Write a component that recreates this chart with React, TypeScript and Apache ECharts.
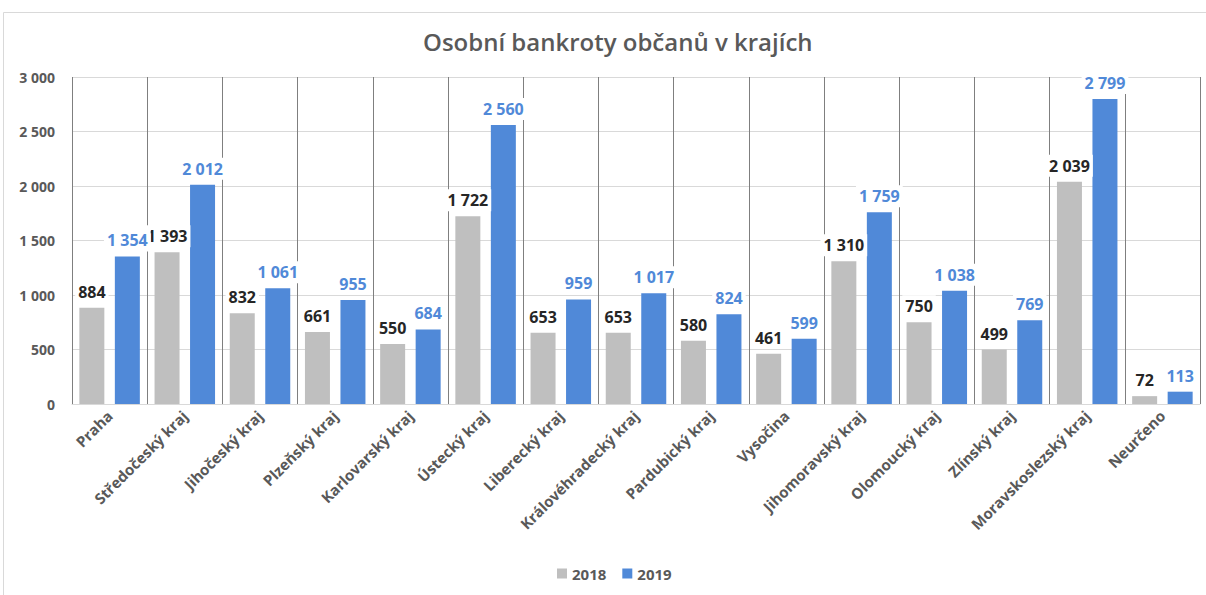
import React, { useEffect, useRef } from "react";
import * as echarts from "echarts";

const categories = [
  "Praha",
  "Středočeský kraj",
  "Jihočeský kraj",
  "Plzeňský kraj",
  "Karlovarský kraj",
  "Ústecký kraj",
  "Liberecký kraj",
  "Královéhradecký kraj",
  "Pardubický kraj",
  "Vysočina",
  "Jihomoravský kraj",
  "Olomoucký kraj",
  "Zlínský kraj",
  "Moravskoslezský kraj",
  "Neurčeno",
];
const values2018 = [884, 1393, 832, 661, 550, 1722, 653, 653, 580, 461, 1310, 750, 499, 2039, 72];
const values2019 = [1354, 2012, 1061, 955, 684, 2560, 959, 1017, 824, 599, 1759, 1038, 769, 2799, 113];
const yTicks = [0, 500, 1000, 1500, 2000, 2500, 3000];

const fmt = (v: number) => String(v).replace(/\B(?=(\d{3})+(?!\d))/g, " ");

const FONT = "'Open Sans', 'Noto Sans', sans-serif";
const GRAY_TEXT = "#595959";
const BLUE = "#5089d8";
const GRAYBAR = "#bfbfbf";

export default function App() {
  const ref = useRef<HTMLDivElement>(null);
  useEffect(() => {
    if (!ref.current) return;
    const chart = echarts.init(ref.current, null, { renderer: "svg" });
    chart.setOption({
      animation: false,
      backgroundColor: "#ffffff",
      textStyle: { fontFamily: FONT },
      graphic: [
        {
          type: "rect",
          shape: { x: 3.5, y: 12.5, width: 1210, height: 600 },
          style: { fill: "none", stroke: "#d9d9d9", lineWidth: 1 },
          silent: true,
        },
      ],
      title: {
        text: "Osobní bankroty občanů v krajích",
        left: 418,
        top: 24,
        textStyle: { fontFamily: FONT, fontSize: 24, fontWeight: 600, color: GRAY_TEXT },
      },
      legend: {
        bottom: 9,
        left: 552,
        itemWidth: 10,
        itemHeight: 10,
        itemGap: 16,
        icon: "rect",
        textStyle: { fontFamily: FONT, fontSize: 15, fontWeight: "bold", color: GRAY_TEXT },
        data: ["2018", "2019"],
      },
      grid: { left: 72, right: 6, top: 77, bottom: 191, containLabel: false },
      xAxis: {
        type: "category",
        data: categories,
        boundaryGap: true,
        axisLine: { show: true, lineStyle: { color: "#d9d9d9", width: 1 } },
        axisTick: { show: false },
        splitLine: { show: true, interval: 0, lineStyle: { color: "#7f7f7f", width: 1 } },
        axisLabel: {
          interval: 0,
          rotate: 45,
          margin: 9,
          fontFamily: FONT,
          fontSize: 15,
          fontWeight: "bold",
          color: GRAY_TEXT,
        },
      },
      yAxis: {
        type: "value",
        min: 0,
        max: 3000,
        interval: 500,
        axisLine: { show: false },
        axisTick: { show: false },
        splitLine: { lineStyle: { color: "#d9d9d9", width: 1 } },
        axisLabel: {
          margin: 17,
          fontFamily: FONT,
          fontSize: 14,
          fontWeight: "bold",
          color: GRAY_TEXT,
          formatter: (v: number) => (yTicks.includes(v) ? fmt(v) : ""),
        },
      },
      series: [
        {
          name: "2018",
          type: "bar",
          data: values2018,
          barWidth: 25,
          barGap: "42%",
          itemStyle: { color: GRAYBAR },
          label: {
            show: true,
            position: "top",
            distance: 5,
            fontFamily: FONT,
            fontSize: 16,
            fontWeight: "bold",
            color: "#262626",
            backgroundColor: "#ffffff",
            padding: [3, 3],
            formatter: (p: any) => fmt(p.value),
          },
        },
        {
          name: "2019",
          type: "bar",
          data: values2019,
          barWidth: 25,
          itemStyle: { color: BLUE },
          label: {
            show: true,
            position: "top",
            distance: 5,
            fontFamily: FONT,
            fontSize: 16,
            fontWeight: "bold",
            color: BLUE,
            backgroundColor: "#ffffff",
            padding: [3, 3],
            formatter: (p: any) => fmt(p.value),
          },
        },
      ],
    });
    return () => chart.dispose();
  }, []);
  return (
    <div
      ref={ref}
      style={{ position: "absolute", left: 0, top: 0, width: 1206, height: 595 }}
    />
  );
}
